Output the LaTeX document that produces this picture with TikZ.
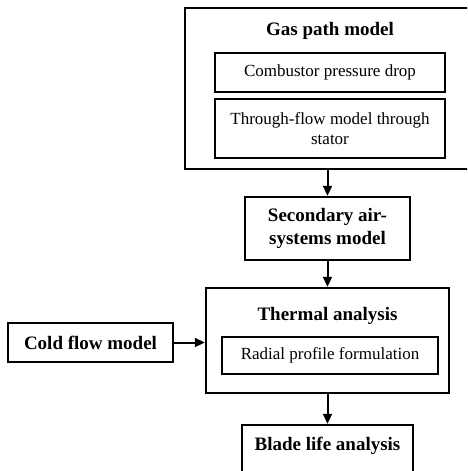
\documentclass[tikz,border=0pt]{standalone}
\usepackage{fontspec}
\setmainfont{Liberation Serif}
\usetikzlibrary{arrows.meta}

\begin{document}
\begin{tikzpicture}[x=1pt, y=-1pt, >={Triangle[length=10pt,width=9pt]},
  outer/.style={draw,line width=2.4pt,inner sep=0pt,align=center,font=\fontsize{19}{23}\selectfont\bfseries},
  inner/.style={draw,line width=2pt,inner sep=0pt,align=center,font=\fontsize{17}{20}\selectfont},
  every node/.style={font=\fontsize{19}{23}\selectfont\bfseries}]
\useasboundingbox (0,0) rectangle (467,471);
\clip (0,0) rectangle (467,471);
\node[outer,minimum width=310pt,minimum height=161pt] (gas) at (340,88.5) {};
\node (gastitle) at (330,31) {Gas path model};
\node[inner,minimum width=230pt,minimum height=39pt] (comb) at (330,72.5) {Combustor pressure drop};
\node[inner,minimum width=230pt,minimum height=59pt] (thru) at (330,128.5) {Through-flow model through\\stator};
\node[outer,minimum width=165pt,minimum height=63pt] (sec) at (327.5,228.5) {Secondary air-\\systems model};
\node[outer,minimum width=243pt,minimum height=105pt] (therm) at (327.5,340.5) {};
\node (thermtitle) at (327.5,316) {Thermal analysis};
\node[inner,minimum width=216pt,minimum height=37pt] (radial) at (330,355.5) {Radial profile formulation};
\node[outer,line width=2.8pt,minimum width=165pt,minimum height=39pt] (cold) at (90.5,342.5) {Cold flow model};
\node[outer,minimum width=171pt,minimum height=80pt] (blade) at (327.5,465) {};
\node (bladetitle) at (327.5,446) {Blade life analysis};
\draw[->,line width=2pt] (sec.north |- gas.south) -- (sec.north);
\draw[->,line width=2pt] (sec.south) -- (therm.north);
\draw[->,line width=2pt] (cold.east) -- (cold.east -| therm.west);
\draw[->,line width=2pt] (therm.south) -- (blade.north);
\end{tikzpicture}
\end{document}
